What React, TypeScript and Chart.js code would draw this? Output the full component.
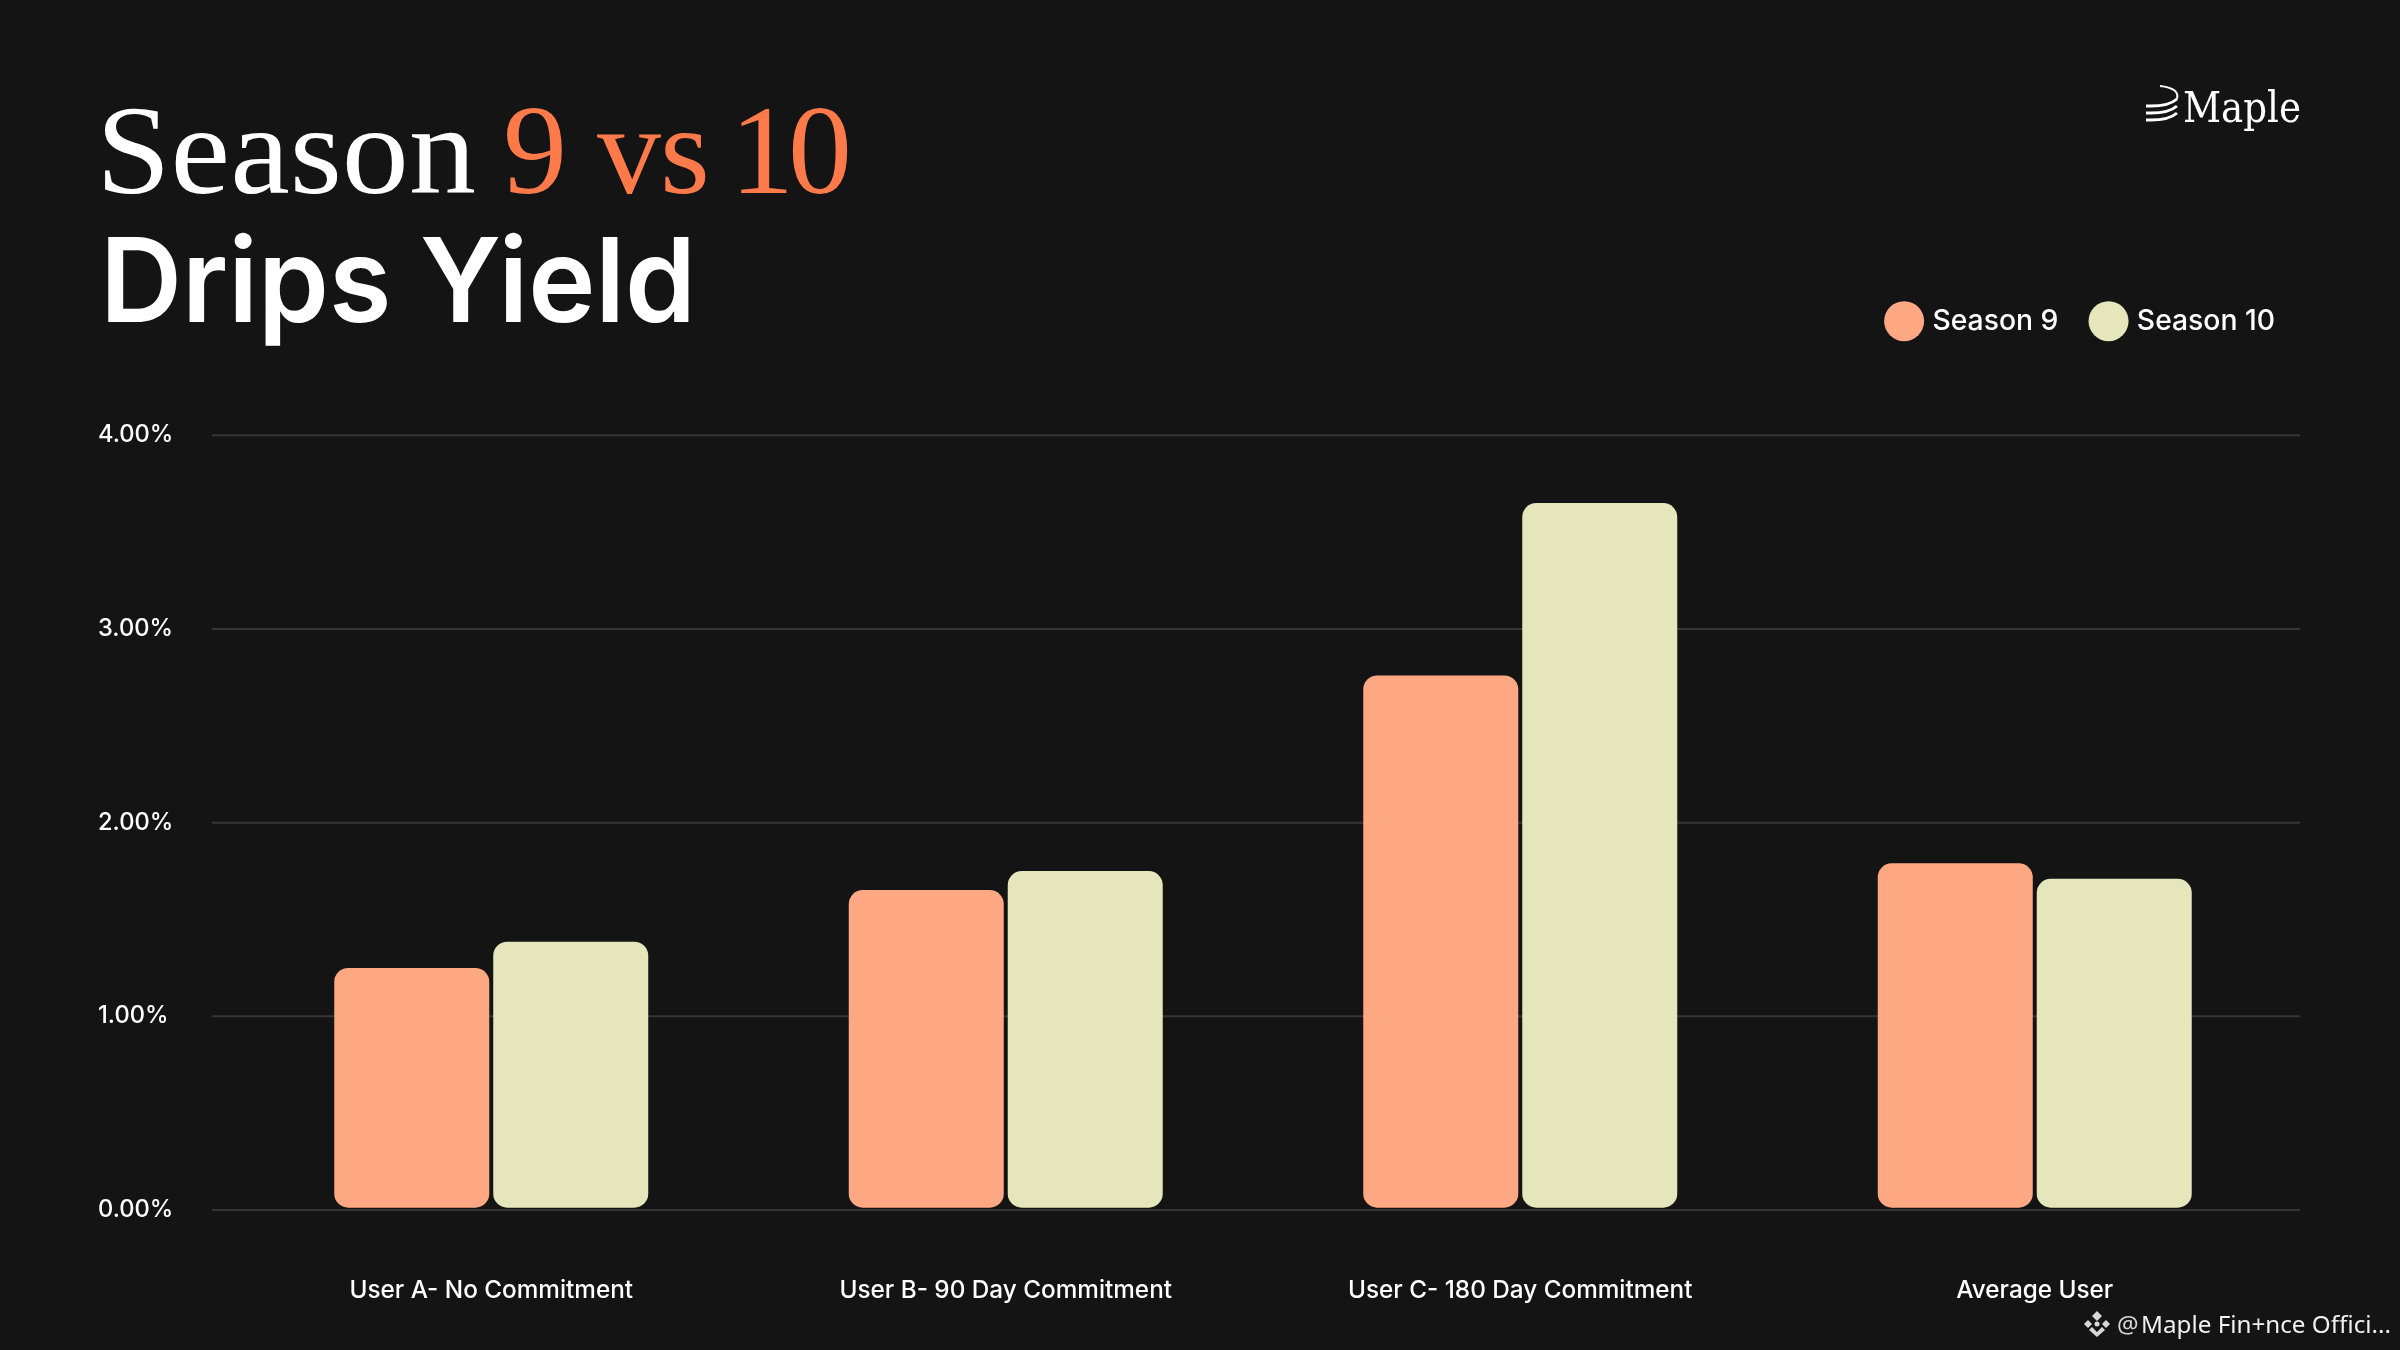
import React, { useEffect, useRef } from "react";
import { Chart, registerables } from "chart.js";

Chart.register(...registerables);

const categories = ["User A- No Commitment", "User B- 90 Day Commitment", "User C- 180 Day Commitment", "Average User"];
const season9 = [1.25, 1.652, 2.76, 1.79];
const season10 = [1.385, 1.75, 3.65, 1.71];
const yTicks = [0, 1, 2, 3, 4];

const BG = "#141414";
const PEACH = "#FFA883";
const CREAM = "#E5E6BC";
const ORANGE = "#FF7A4A";
const GRID = "#353535";

const gridPlugin = {
  id: "wideGrid",
  beforeDatasetsDraw(chart: any) {
    const { ctx, scales } = chart;
    ctx.save();
    ctx.strokeStyle = GRID;
    ctx.lineWidth = 2;
    scales.y.ticks.forEach((t: any) => {
      const y = scales.y.getPixelForValue(t.value);
      ctx.beginPath();
      ctx.moveTo(212, y);
      ctx.lineTo(2300, y);
      ctx.stroke();
    });
    ctx.restore();
  },
};

const legendPlacement = {
  id: "legendPlacement",
  afterLayout(chart: any) {
    const l = chart.legend;
    const h = l.height;
    l.right = 2311;
    l.top = 271;
    l.bottom = 271 + h;
  },
};

export default function App() {
  const ref = useRef<HTMLCanvasElement>(null);
  useEffect(() => {
    document.body.style.margin = "0";
    document.body.style.background = BG;
    const chart = new Chart(ref.current as HTMLCanvasElement, {
      type: "bar",
      data: {
        labels: categories,
        datasets: [
          { label: "Season 9", data: season9, backgroundColor: PEACH, hoverBackgroundColor: PEACH },
          { label: "Season 10", data: season10, backgroundColor: CREAM, hoverBackgroundColor: CREAM },
        ],
      },
      options: {
        animation: false,
        responsive: false,
        devicePixelRatio: 1,
        layout: { padding: { left: 98, right: 108, top: 361, bottom: 0 } },
        datasets: {
          bar: {
            base: 0.012,
            categoryPercentage: 0.618,
            barPercentage: 0.975,
            borderRadius: 14,
            borderSkipped: false,
          },
        },
        plugins: {
          title: { display: false },
          tooltip: { enabled: false },
          legend: {
            display: true,
            position: "top",
            align: "end",
            labels: {
              usePointStyle: true,
              pointStyle: "circle",
              padding: 36,
              color: "#FFFFFF",
              font: { family: "Inter", size: 28.3, weight: "500" },
            },
          },
        },
        scales: {
          x: {
            border: { display: false },
            grid: { display: false },
            afterFit(s: any) { s.height = 140; },
            ticks: {
              color: "#FFFFFF",
              padding: 58,
              maxRotation: 0,
              font: { family: "Inter", size: 24.3, weight: "500" },
            },
          },
          y: {
            min: 0,
            max: 4,
            border: { display: false },
            grid: { display: false },
            afterFit(s: any) { s.width = 136; },
            afterBuildTicks(s: any) { s.ticks = yTicks.map((value) => ({ value })); },
            ticks: {
              color: "#FFFFFF",
              crossAlign: "far",
              font: { family: "Inter", size: 23.7, weight: "500" },
              callback: (v: any) => Number(v).toFixed(2) + "%",
            },
          },
        },
      } as any,
      plugins: [gridPlugin, legendPlacement] as any,
    });
    return () => chart.destroy();
  }, []);

  return (
    <div style={{ position: "absolute", left: 0, top: 0, width: 2400, height: 1350, background: BG, overflow: "hidden" }}>
      <canvas ref={ref} width={2400} height={1350} style={{ position: "absolute", left: 0, top: 0, width: 2400, height: 1350 }} />
      <svg width={2400} height={1350} style={{ position: "absolute", left: 0, top: 0, pointerEvents: "none" }}>
        <text x={96} y={193} fill="#FFFFFF" fontFamily="Liberation Serif" fontSize={128} textLength={380} lengthAdjust="spacingAndGlyphs">Season</text>
        <text y={193} fill={ORANGE} fontFamily="Liberation Serif" fontSize={128}><tspan x={503}>9 </tspan><tspan x={597} letterSpacing={-1}>vs </tspan><tspan x={730} letterSpacing={-6}>10</tspan></text>
        <text x={100} y={322} fill="#FFFFFF" fontFamily="Inter" fontWeight={600} fontSize={117} textLength={596} lengthAdjust="spacingAndGlyphs">Drips Yield</text>
        <text x={2183} y={122} fill="#FFFFFF" fontFamily="DejaVu Serif" fontSize={43} textLength={118} lengthAdjust="spacingAndGlyphs">Maple</text>
        <g fill="none" stroke="#FFFFFF" strokeWidth={3}>
          <path d="M2146 106 Q2168 107 2177 99" />
          <path d="M2146 113 Q2168 114 2177 106" />
          <path d="M2146 120 Q2168 121 2177 113" />
          <path d="M2160 86 Q2180 88 2177 99" strokeWidth={2} />
        </g>
        <g fill="#D8D8D8" transform="translate(2097 1324)">
          <path d="M0 -13 L5 -8 L0 -3 L-5 -8 Z M0 13 L8 6 L5 3 L0 8 L-5 3 L-8 6 Z M-13 0 L-9 -4 L-5 0 L-9 4 Z M13 0 L9 -4 L5 0 L9 4 Z" />
          <circle r={2.5} />
        </g>
        <text x={2117} y={1333} fill="#D8D8D8" fontFamily="Noto Sans" fontSize={24}>@</text>
        <text x={2141} y={1333} fill="#F0F0F0" fontFamily="Noto Sans" fontSize={24} textLength={250} lengthAdjust="spacingAndGlyphs">Maple Fin+nce Offici...</text>
      </svg>
    </div>
  );
}
